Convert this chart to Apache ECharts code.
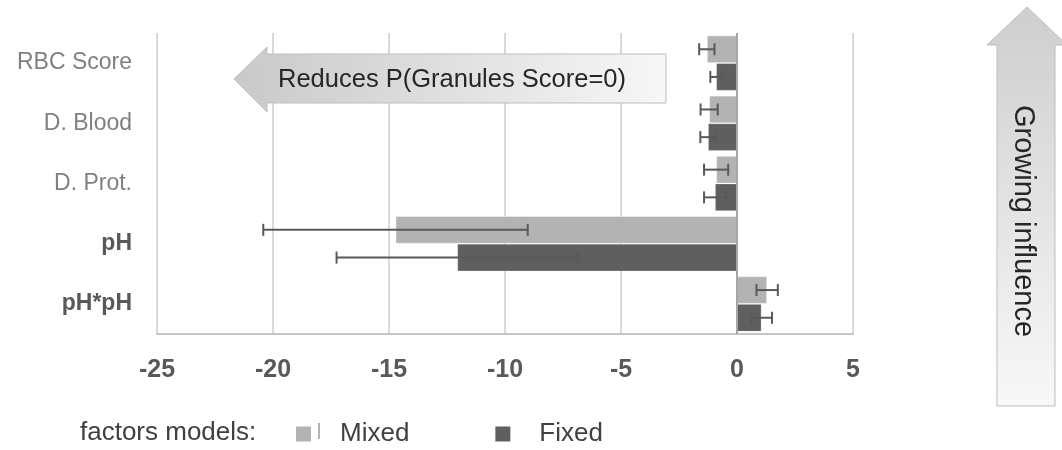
<!DOCTYPE html>
<html>
<head>
<meta charset="utf-8">
<script src="https://cdn.jsdelivr.net/npm/echarts@6/dist/echarts.min.js"></script>
<style>
html,body{margin:0;padding:0;background:#fff;}
#chart{width:1062px;height:450px;}
</style>
</head>
<body>
<div id="chart"></div>
<script>
const categories = ['RBC Score', 'D. Blood', 'D. Prot.', 'pH', 'pH*pH'];
const mixedVals = [-1.3, -1.2, -0.9, -14.72, 1.3];
const mixedErr  = [0.33, 0.37, 0.52, 5.7, 0.46];
const fixedVals = [-0.9, -1.25, -0.95, -12.06, 1.06];
const fixedErr  = [0.25, 0.33, 0.47, 5.2, 0.45];
const xTicks = [-25, -20, -15, -10, -5, 0, 5];

const GAP = 0.08;
function errData(vals, errs) {
  return vals.map((v, i) => [i, v - errs[i], v + errs[i]]);
}
function errRender(side) {
  return function (params, api) {
    const c = api.value(0);
    const lo = api.coord([api.value(1), c]);
    const hi = api.coord([api.value(2), c]);
    const band = api.size([0, 1])[1];
    const y = lo[1] + side * band * (1 - GAP) / 4;
    const cap = 6;
    const st = { stroke: '#595959', lineWidth: 2 };
    return {
      type: 'group',
      children: [
        { type: 'line', shape: { x1: lo[0], y1: y, x2: hi[0], y2: y }, style: st },
        { type: 'line', shape: { x1: lo[0], y1: y - cap, x2: lo[0], y2: y + cap }, style: st },
        { type: 'line', shape: { x1: hi[0], y1: y - cap, x2: hi[0], y2: y + cap }, style: st }
      ]
    };
  };
}

const chart = echarts.init(document.getElementById('chart'));
chart.setOption({
  animation: false,
  grid: { left: 157, right: 209, top: 33, bottom: 116, containLabel: false },
  xAxis: {
    type: 'value', min: -25, max: 5, interval: 5,
    axisLine: { show: true, onZero: false, lineStyle: { color: '#c6c6c6', width: 2 } },
    axisTick: { show: false },
    splitLine: { show: true, lineStyle: { color: '#d9d9d9', width: 2 } },
    axisLabel: {
      margin: 24, color: '#595959', fontSize: 25, fontWeight: 'bold',
      fontFamily: 'Liberation Sans',
      formatter: v => (xTicks.indexOf(v) >= 0 ? String(v) : '')
    }
  },
  yAxis: {
    type: 'category', data: categories, inverse: true,
    axisLine: { show: false }, axisTick: { show: false }, splitLine: { show: false },
    axisLabel: {
      margin: 25,
      formatter: (v, i) => (i >= 3 ? '{b|' + v + '}' : '{n|' + v + '}'),
      rich: {
        n: { fontSize: 23, color: '#808080', fontFamily: 'Liberation Sans' },
        b: { fontSize: 23, color: '#595959', fontWeight: 'bold', fontFamily: 'Liberation Sans' }
      }
    }
  },
  legend: {
    left: 296, top: 421, padding: 0, itemWidth: 15, itemHeight: 15, itemGap: 86,
    icon: 'rect',
    data: ['Mixed', 'Fixed'],
    itemStyle: { borderWidth: 0 },
    textStyle: { fontSize: 26, color: '#404040', fontFamily: 'Liberation Sans', padding: [0, 0, 0, 24] }
  },
  series: [
    {
      name: 'Mixed', type: 'bar', data: mixedVals,
      barGap: '0%', barCategoryGap: (GAP * 100) + '%',
      itemStyle: { color: '#b3b3b3', borderColor: 'rgba(255,255,255,0.35)', borderWidth: 1 },
      markLine: {
        silent: true, symbol: 'none', label: { show: false },
        lineStyle: { color: '#a6a6a6', width: 2, type: 'solid' },
        data: [{ xAxis: 0 }]
      }
    },
    {
      name: 'Fixed', type: 'bar', data: fixedVals,
      barGap: '0%', barCategoryGap: (GAP * 100) + '%',
      itemStyle: { color: '#5f5f5f', borderColor: 'rgba(255,255,255,0.2)', borderWidth: 1 }
    },
    {
      name: 'MixedErr', type: 'custom', renderItem: errRender(-1),
      data: errData(mixedVals, mixedErr), encode: { y: 0, x: [1, 2] }, z: 5, silent: true
    },
    {
      name: 'FixedErr', type: 'custom', renderItem: errRender(1),
      data: errData(fixedVals, fixedErr), encode: { y: 0, x: [1, 2] }, z: 5, silent: true
    }
  ],
  graphic: [
    {
      type: 'polygon', z: 100,
      shape: { points: [[234, 79], [267, 47], [267, 54], [666, 54], [666, 103], [267, 103], [267, 112]] },
      style: {
        fill: new echarts.graphic.LinearGradient(0, 0, 1, 0, [
          { offset: 0, color: '#c9c9c9' }, { offset: 1, color: '#f7f7f7' }
        ]),
        stroke: '#bdbdbd', lineWidth: 1
      }
    },
    {
      type: 'text', z: 101, x: 278, y: 80,
      style: { text: 'Reduces P(Granules Score=0)', fontSize: 25.5, fill: '#262626',
        fontFamily: 'Liberation Sans', verticalAlign: 'middle' }
    },
    {
      type: 'polygon', z: 100,
      shape: { points: [[1027, 7], [1067, 45], [1055, 45], [1055, 406], [997, 406], [997, 45], [987, 45]] },
      style: {
        fill: new echarts.graphic.LinearGradient(0, 0, 0, 1, [
          { offset: 0, color: '#cecece' }, { offset: 1, color: '#f8f8f8' }
        ]),
        stroke: '#bdbdbd', lineWidth: 1
      }
    },
    {
      type: 'text', z: 101, x: 1023, y: 221, rotation: -Math.PI / 2,
      style: { text: 'Growing influence', fontSize: 29, fill: '#262626',
        fontFamily: 'Liberation Sans', align: 'center', verticalAlign: 'middle' }
    },
    {
      type: 'text', z: 101, x: 80, y: 433,
      style: { text: 'factors models:', fontSize: 26, fill: '#404040',
        fontFamily: 'Liberation Sans', verticalAlign: 'middle' }
    },
    {
      type: 'line', z: 101,
      shape: { x1: 319, y1: 423, x2: 319, y2: 439 },
      style: { stroke: '#9a9a9a', lineWidth: 1.5 }
    }
  ]
});
</script>
</body>
</html>
